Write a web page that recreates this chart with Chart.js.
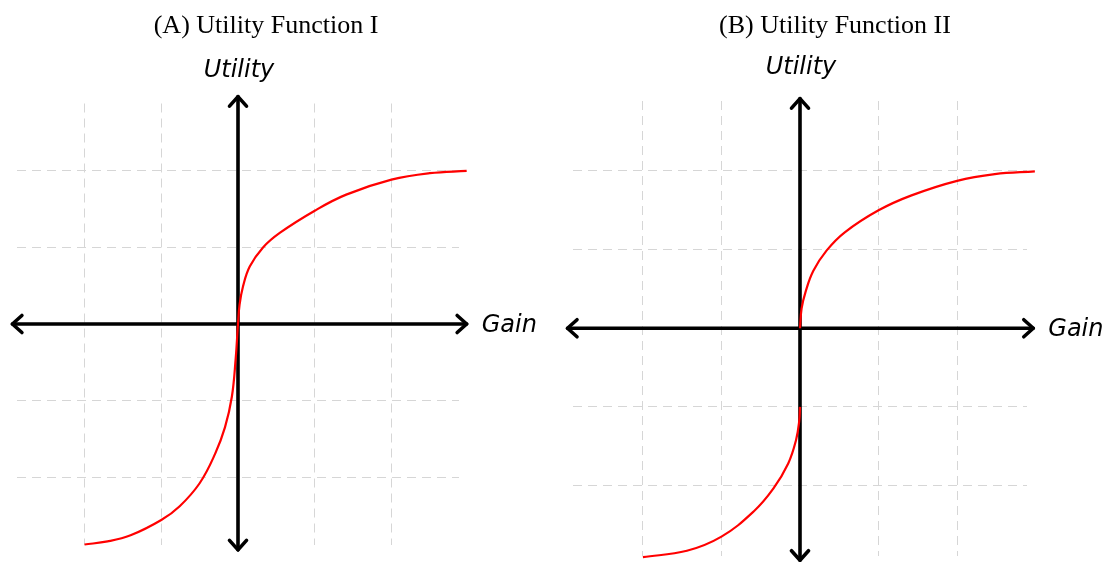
<!DOCTYPE html>
<html>
<head>
<meta charset="utf-8">
<script src="https://cdn.jsdelivr.net/npm/chart.js@4.4.1/dist/chart.umd.min.js"></script>
<style>
    html, body { margin: 0; padding: 0; background: #fff; overflow: hidden; }
    body { width: 1113px; height: 562px; position: relative; }
    canvas { position: absolute; top: 0; }
    #chartA { left: 0; }
    #chartB { left: 557px; }
</style>
</head>
<body>
<canvas id="chartA" width="556" height="562"></canvas>
<canvas id="chartB" width="556" height="562"></canvas>
<script>
/* Data (axis units, one grid square = 1) */
const gridTicks = [-2, -1, 1, 2];
const xLabel = "Gain";
const yLabel = "Utility";
const titleA = "(A) Utility Function I";
const titleB = "(B) Utility Function II";

// (A) continuous through the origin
const aLossX = [-2.0, -1.7, -1.4, -1.0, -0.76, -0.5, -0.3, -0.17, -0.08, -0.03, 0];
const aLossY = [-2.88, -2.84, -2.76, -2.56, -2.38, -2.08, -1.7, -1.35, -0.95, -0.45, 0];
const aGainX = [0, 0.02, 0.065, 0.153, 0.326, 0.544, 1.0, 1.41, 2.0, 2.5, 2.98];
const aGainY = [0, 0.25, 0.49, 0.75, 1.0, 1.19, 1.48, 1.69, 1.885, 1.97, 2.0];

// (B) jumps from -1 to 0 at the origin
const bLossX = [-2.0, -1.44, -1.0, -0.59, -0.34, -0.15, -0.05, -0.01, 0];
const bLossY = [-2.91, -2.83, -2.65, -2.33, -2.04, -1.72, -1.42, -1.18, -1.0];
const bGainX = [0, 0.02, 0.07, 0.17, 0.34, 0.57, 1.0, 1.42, 2.0, 2.48, 2.99];
const bGainY = [0, 0.25, 0.46, 0.73, 0.99, 1.22, 1.5, 1.69, 1.875, 1.96, 1.995];

/* Utils */
const toPoints = (xs, ys) => xs.map((x, i) => ({ x, y: ys[i] }));

function arrowHead(ctx, px, py, dx, dy) {
    const L = 9.5, W = 8.5;
    ctx.beginPath();
    ctx.moveTo(px - dx * L - dy * W, py - dy * L + dx * W);
    ctx.lineTo(px, py);
    ctx.lineTo(px - dx * L + dy * W, py - dy * L - dx * W);
    ctx.stroke();
}

/* Axes with arrows + labels */
const arrowAxes = {
    id: "arrowAxes",
    beforeDatasetsDraw(chart, args, opts) {
        const { ctx, scales: { x, y } } = chart;
        const x0 = x.getPixelForValue(0), y0 = y.getPixelForValue(0);
        const xl = x.getPixelForValue(opts.xEnds[0]), xr = x.getPixelForValue(opts.xEnds[1]);
        const yb = y.getPixelForValue(opts.yEnds[0]), yt = y.getPixelForValue(opts.yEnds[1]);
        ctx.save();
        ctx.strokeStyle = "#000";
        ctx.lineWidth = 3.6;
        ctx.lineCap = "round";
        ctx.lineJoin = "round";
        ctx.beginPath();
        ctx.moveTo(xl, y0); ctx.lineTo(xr, y0);
        ctx.moveTo(x0, yb); ctx.lineTo(x0, yt);
        ctx.stroke();
        arrowHead(ctx, xl, y0, -1, 0);
        arrowHead(ctx, xr, y0, 1, 0);
        arrowHead(ctx, x0, yt, 0, -1);
        arrowHead(ctx, x0, yb, 0, 1);
        ctx.restore();
    },
    afterDraw(chart, args, opts) {
        const { ctx, chartArea, scales: { x, y } } = chart;
        const x0 = x.getPixelForValue(0), y0 = y.getPixelForValue(0);
        const xr = x.getPixelForValue(opts.xEnds[1]);
        ctx.save();
        ctx.fillStyle = "#000";
        ctx.textBaseline = "alphabetic";
        ctx.textAlign = "center";
        ctx.font = '26px "Liberation Serif", serif';
        ctx.fillText(opts.title, opts.titleX, 33);
        ctx.font = 'italic 24px "DejaVu Sans", sans-serif';
        ctx.fillText(yLabel, x0 + 1, chartArea.top - 27);
        ctx.textAlign = "left";
        ctx.fillText(xLabel, xr + 15, y0 + 8);
        ctx.restore();
    }
};

function gridScale(lim) {
    return {
        type: "linear",
        min: -lim,
        max: lim,
        afterBuildTicks: s => { s.ticks = gridTicks.map(v => ({ value: v })); },
        ticks: { display: false },
        border: { display: false, dash: [9, 6] },
        grid: { color: "#d6d6d6", lineWidth: 1, drawTicks: false }
    };
}

function lineSet(points) {
    return {
        data: points,
        borderColor: "#ff0000",
        borderWidth: 2.2,
        pointRadius: 0,
        fill: false,
        tension: 0.4,
        capBezierPoints: false,
        clip: false
    };
}

function makeChart(canvas, datasets, lim, padding, axes) {
    return new Chart(canvas, {
        type: "line",
        data: { datasets },
        options: {
            responsive: false,
            animation: false,
            events: [],
            layout: { padding },
            scales: { x: gridScale(lim), y: gridScale(lim) },
            plugins: { legend: { display: false }, tooltip: { enabled: false }, arrowAxes: axes }
        },
        plugins: [arrowAxes]
    });
}

makeChart(
    document.getElementById("chartA"),
    [lineSet(toPoints(aLossX.concat(aGainX.slice(1)), aLossY.concat(aGainY.slice(1))))],
    2.88,
    { left: 17, right: 97, top: 103.5, bottom: 17.5 },
    { xEnds: [-2.94, 2.98], yEnds: [-2.95, 2.97], title: titleA, titleX: 266 }
);

makeChart(
    document.getElementById("chartB"),
    [lineSet(toPoints(bLossX, bLossY)), lineSet(toPoints(bGainX, bGainY))],
    2.89,
    { left: 16, right: 86, top: 101, bottom: 6.5 },
    { xEnds: [-2.96, 2.97], yEnds: [-2.95, 2.92], title: titleB, titleX: 278 }
);
</script>
</body>
</html>
